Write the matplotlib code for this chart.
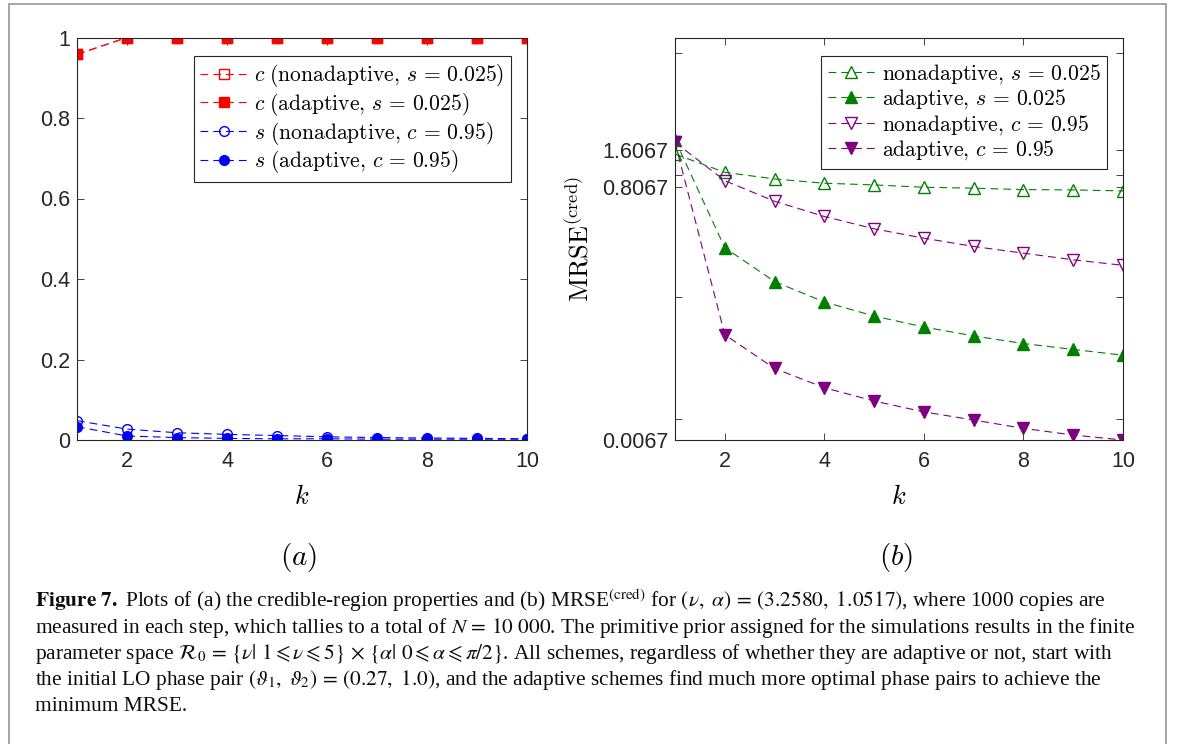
import numpy as np
import matplotlib
matplotlib.use('Agg')
import matplotlib.pyplot as plt
from matplotlib.patches import Rectangle
from matplotlib.ticker import FixedLocator, NullFormatter

plt.rcParams['font.family'] = ['Liberation Sans', 'DejaVu Sans']
plt.rcParams['mathtext.fontset'] = 'cm'

k = np.arange(1, 11)

# (a) credible-region properties
c_nonadaptive = [0.958, 1, 1, 1, 1, 1, 1, 1, 1, 1]
c_adaptive = [0.958, 1, 1, 1, 1, 1, 1, 1, 1, 1]
s_nonadaptive = [0.048, 0.027, 0.018, 0.014, 0.011, 0.008, 0.006, 0.005, 0.004, 0.003]
s_adaptive = [0.033, 0.010, 0.006, 0.004, 0.003, 0.003, 0.002, 0.002, 0.002, 0.002]
yticks_a = [0, 0.2, 0.4, 0.6, 0.8, 1]
yticklabels_a = ['0', '0.2', '0.4', '0.6', '0.8', '1']

# (b) MRSE^(cred)
mrse_nonad_s = [1.49, 1.056, 0.931, 0.859, 0.832, 0.796, 0.782, 0.762, 0.757, 0.743]
mrse_adapt_s = [1.95, 0.254, 0.134, 0.091, 0.0698, 0.0567, 0.0479, 0.0415, 0.0371, 0.0333]
mrse_nonad_c = [1.86, 0.902, 0.611, 0.458, 0.363, 0.304, 0.260, 0.229, 0.202, 0.182]
mrse_adapt_c = [1.86, 0.0491, 0.0259, 0.0180, 0.0140, 0.0114, 0.00977, 0.00835, 0.00736, 0.0067]
yticks_b = [0.0067, 0.8067, 1.6067]
yticklabels_b = ['0.0067', '0.8067', '1.6067']
decades_b = [0.01, 0.1, 1, 10]
xticks = [2, 4, 6, 8, 10]

caption = [
    r'$\mathbf{Figure\ 7.}$ Plots of (a) the credible-region properties and (b) MRSE$^{\mathrm{(cred)}}$ '
    r'for $(\nu,\ \alpha)\,=\,(3.2580,\ 1.0517)$, where 1000 copies are',
    r'measured in each step, which tallies to a total of $N\,=\,10\ 000$. The primitive prior assigned '
    r'for the simulations results in the finite',
    r'parameter space $\mathcal{R}_0\,=\,\{\nu|\ 1 \leqslant \nu \leqslant 5\}\,\times\,'
    r'\{\alpha|\ 0 \leqslant \alpha \leqslant \pi/2\}$. All schemes, regardless of whether they are '
    r'adaptive or not, start with',
    r'the initial LO phase pair $(\vartheta_1,\ \vartheta_2)\,=\,(0.27,\ 1.0)$, and the adaptive schemes '
    r'find much more optimal phase pairs to achieve the',
    'minimum MRSE.',
]

W, H = 1182, 744
fig = plt.figure(figsize=(W / 100, H / 100), dpi=100)

# figure frame
fig.patches.append(Rectangle((9 / W, -0.01), (1166 - 9) / W, 1 - 4 / H + 0.01,
                             transform=fig.transFigure, fill=False, ec='0.62', lw=1.3))

ax1 = fig.add_axes([77 / W, 1 - 440 / H, 450 / W, 402.5 / H])
ax2 = fig.add_axes([675 / W, 1 - 440 / H, 448 / W, 402.5 / H])

dash = dict(ls=(0, (7, 4.5)), lw=0.8)
ax1.plot(k, c_nonadaptive, color='red', marker='s', mfc='none', ms=6.5, **dash,
         label=r'$c\ (\mathrm{nonadaptive},\, s\,=\,0.025)$')
ax1.plot(k, c_adaptive, color='red', marker='s', ms=6.5, **dash,
         label=r'$c\ (\mathrm{adaptive},\, s\,=\,0.025)$')
ax1.plot(k, s_nonadaptive, color='blue', marker='o', mfc='none', ms=7, **dash,
         label=r'$s\ (\mathrm{nonadaptive},\, c\,=\,0.95)$')
ax1.plot(k, s_adaptive, color='blue', marker='o', ms=7, **dash,
         label=r'$s\ (\mathrm{adaptive},\, c\,=\,0.95)$')
ax1.set_xlim(1, 10)
ax1.set_ylim(0, 1)
ax1.set_yticks(yticks_a)
ax1.set_yticklabels(yticklabels_a)

green, purple = (0, 0.5, 0), (0.5, 0, 0.5)
ax2.plot(k, mrse_nonad_s, color=green, marker='^', mfc='none', ms=8, **dash,
         label=r'$\mathrm{nonadaptive},\, s\,=\,0.025$')
ax2.plot(k, mrse_adapt_s, color=green, marker='^', ms=8, **dash,
         label=r'$\mathrm{adaptive},\, s\,=\,0.025$')
ax2.plot(k, mrse_nonad_c, color=purple, marker='v', mfc='none', ms=8, **dash,
         label=r'$\mathrm{nonadaptive},\, c\,=\,0.95$')
ax2.plot(k, mrse_adapt_c, color=purple, marker='v', ms=8, **dash,
         label=r'$\mathrm{adaptive},\, c\,=\,0.95$')
ax2.set_yscale('log')
ax2.set_xlim(1, 10)
ax2.set_ylim(0.0067, 13.5)
ax2.yaxis.set_major_locator(FixedLocator(yticks_b))
ax2.set_yticklabels(yticklabels_b)
ax2.yaxis.set_minor_locator(FixedLocator(decades_b))
ax2.yaxis.set_minor_formatter(NullFormatter())
ax2.set_ylabel(r'$\mathrm{MRSE}^{\mathrm{(cred)}}$', fontsize=19, labelpad=6)

for ax in (ax1, ax2):
    ax.set_xticks(xticks)
    ax.set_xlabel(r'$k$', fontsize=19, labelpad=9)
    ax.tick_params(which='both', direction='in', top=True, right=True, length=5,
                   width=0.6, color='0.15', labelsize=15.5, labelcolor='0.15')
    ax.tick_params(axis='x', pad=8)
    ax.tick_params(axis='y', pad=5)
    for sp in ax.spines.values():
        sp.set_color('0.15')
        sp.set_linewidth(0.8)
    leg = ax.legend(loc='upper right', bbox_to_anchor=(0.964, 0.955), borderaxespad=0,
                    fontsize=15.5, handlelength=2.2, handletextpad=0.3, labelspacing=0.08,
                    borderpad=0.3, fancybox=False, framealpha=1, edgecolor='0.15')
    leg.get_frame().set_linewidth(0.8)

fig.text(299 / W, 1 - 557 / H, r'$(a)$', fontsize=21, ha='center', va='center')
fig.text(896 / W, 1 - 557 / H, r'$(b)$', fontsize=21, ha='center', va='center')

for i, line in enumerate(caption):
    fig.text(35 / W, 1 - (607 + 26 * i) / H, line, family='Liberation Serif',
             math_fontfamily='stix', fontsize=15.4, ha='left', va='baseline', color='0.05')

fig.savefig('out.png', dpi=100)
